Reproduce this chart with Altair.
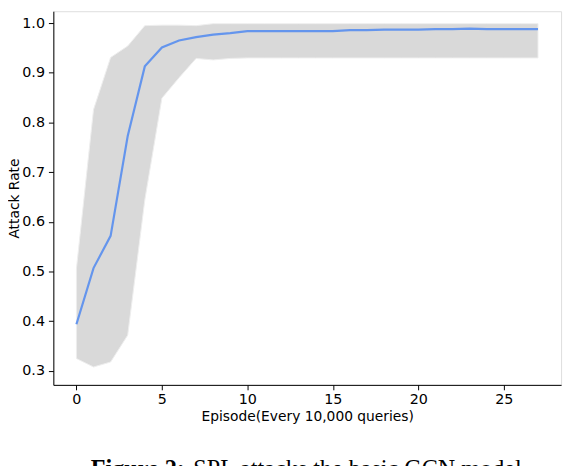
import altair as alt
import pandas as pd

episodes = list(range(28))
mean_rate = [0.394, 0.507, 0.572, 0.773, 0.913, 0.951, 0.965, 0.972, 0.977, 0.980,
             0.984, 0.984, 0.984, 0.984, 0.984, 0.984, 0.986, 0.986, 0.987, 0.987,
             0.987, 0.988, 0.988, 0.989, 0.988, 0.988, 0.988, 0.988]
upper_rate = [0.506, 0.826, 0.931, 0.954, 0.995, 0.996, 0.996, 0.995, 0.999, 0.999,
              0.999, 0.999, 0.999, 0.999, 0.999, 0.999, 0.999, 0.999, 0.999, 0.999,
              0.999, 0.999, 0.999, 0.999, 0.999, 0.999, 0.999, 0.999]
lower_rate = [0.325, 0.308, 0.318, 0.372, 0.644, 0.849, 0.890, 0.929, 0.926, 0.929,
              0.930, 0.930, 0.930, 0.930, 0.930, 0.930, 0.930, 0.930, 0.930, 0.930,
              0.930, 0.930, 0.930, 0.930, 0.930, 0.930, 0.930, 0.930]

x_ticks = [0, 5, 10, 15, 20, 25]
y_ticks = [0.3, 0.4, 0.5, 0.6, 0.7, 0.8, 0.9, 1.0]
caption_bold = "Figure 2:"
caption_rest = "SPL attacks the basic GCN model."

df = pd.DataFrame({"ep": episodes, "mean": mean_rate, "lo": lower_rate, "hi": upper_rate})

FONT = "DejaVu Sans"

xscale = alt.Scale(domain=[-1.35, 28.35], nice=False, zero=False)
yscale = alt.Scale(domain=[0.272, 1.024], nice=False, zero=False)

xaxis = alt.Axis(values=x_ticks, title="Episode(Every 10,000 queries)", grid=False,
                 labelFont=FONT, labelFontSize=14.5, titleFont=FONT, titleFontSize=14,
                 titleFontWeight="normal", labelColor="black", titleColor="black",
                 tickColor="black", domainColor="black", tickSize=5, labelPadding=3,
                 titlePadding=4, labelFlush=False)
yaxis = alt.Axis(values=y_ticks, format=".1f", title="Attack Rate", grid=False,
                 labelFont=FONT, labelFontSize=14.5, titleFont=FONT, titleFontSize=14,
                 titleFontWeight="normal", labelColor="black", titleColor="black",
                 tickColor="black", domainColor="black", tickSize=5, labelPadding=4,
                 titlePadding=0, labelFlush=False)

band = alt.Chart(df).mark_area(color="#d9d9d9", opacity=1, stroke="#eeeeee",
                               strokeWidth=1).encode(
    x=alt.X("ep:Q", scale=xscale, axis=xaxis),
    y=alt.Y("lo:Q", scale=yscale, axis=yaxis),
    y2="hi:Q",
)

line = alt.Chart(df).mark_line(color="#6495ED", strokeWidth=2.2).encode(
    x=alt.X("ep:Q", scale=xscale),
    y=alt.Y("mean:Q", scale=yscale),
)

cap_df1 = pd.DataFrame({"t": [caption_bold]})
cap_df2 = pd.DataFrame({"t": [caption_rest]})

cap1 = alt.Chart(cap_df1).mark_text(font="Liberation Serif", fontSize=24.5, fontWeight="bold",
                                    align="left", baseline="alphabetic", color="black").encode(
    text="t:N", x=alt.value(38), y=alt.value(472))
cap2 = alt.Chart(cap_df2).mark_text(font="Liberation Serif", fontSize=24.5,
                                    align="left", baseline="alphabetic", color="black").encode(
    text="t:N", x=alt.value(142), y=alt.value(472))

chart = alt.layer(band, line, cap1, cap2).properties(
    width=515, height=379,
    autosize=alt.AutoSizeParams(type="none"),
    padding={"left": 46, "top": 0, "right": 5, "bottom": 79},
).configure_view(stroke="black", strokeWidth=1.2).configure(background="white")

chart.save("out.html", embed_options={"renderer": "svg", "actions": False})
